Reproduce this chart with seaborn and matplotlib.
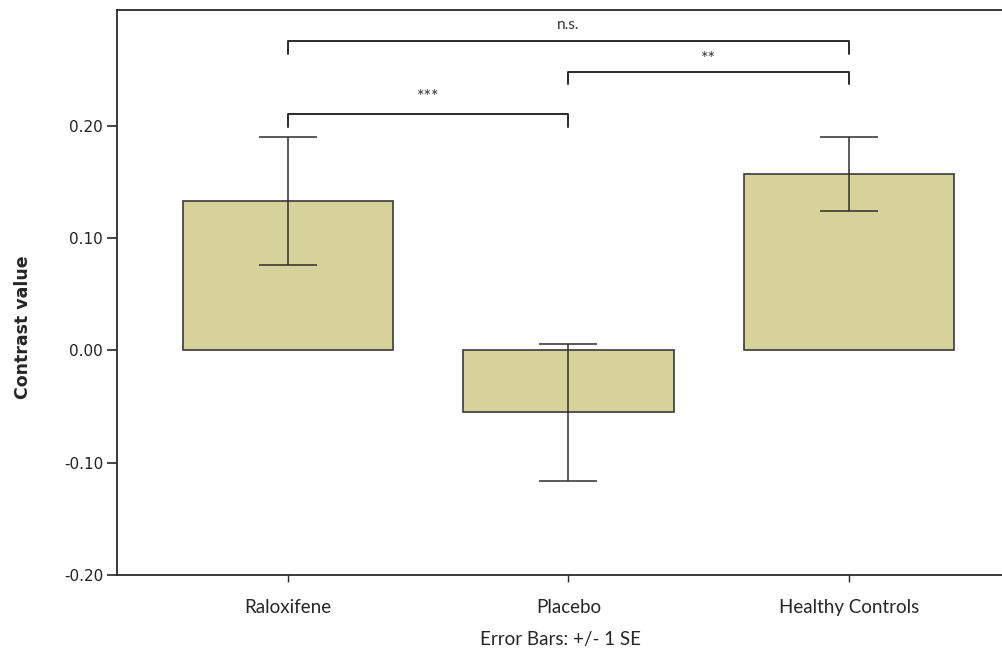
import numpy as np
import pandas as pd
import seaborn as sns
import matplotlib.pyplot as plt

# values
groups = ['Raloxifene', 'Placebo', 'Healthy Controls']
means = [0.133, -0.055, 0.157]
se = [0.057, 0.061, 0.033]

# significance brackets: (left group, right group, height, label)
brackets = [
    (0, 2, 0.275, 'n.s.'),
    (1, 2, 0.248, '**'),
    (0, 1, 0.210, '***'),
]

sns.set_style('white')
plt.rcParams['font.family'] = ['DejaVu Sans']

dat = pd.DataFrame({'group': groups, 'mean': means, 'se': se})

fig = plt.figure(figsize=(10.03, 6.48), dpi=100)
ax = fig.add_axes([0.1167, 0.1127, 0.8833, 0.8719])

sns.barplot(data=dat, x='group', y='mean', color='#d7d29a', saturation=1,
            width=0.75, edgecolor='#3a3a3a', linewidth=1.2, errorbar=None,
            ax=ax)
# Error bars (+/- 1 SE)
ax.errorbar(np.arange(len(groups)), dat['mean'], yerr=dat['se'], fmt='none',
            ecolor='#2e2e2e', elinewidth=1.1, capsize=21, capthick=1.1)

# Significance brackets
drop = 0.011
for a, b, h, lab in brackets:
    ax.plot([a, a, b, b], [h - drop, h, h, h - drop], color='#2a2a2a', lw=1.4)
    off = 0.004 if lab == '**' else 0.008
    size = 11 if lab == 'n.s.' else 13
    ax.text((a + b) / 2, h + off, lab, ha='center', va='bottom',
            fontsize=size, color='#333333', family='Lato')

ax.set_ylim(-0.20, 0.303)
ax.set_xlim(-0.61, 2.55)
ax.set_yticks([-0.20, -0.10, 0.00, 0.10, 0.20])
ax.set_yticklabels(['-0.20', '-0.10', '0.00', '0.10', '0.20'])
ax.tick_params(axis='y', length=7, width=1.2, direction='out', left=True,
               labelsize=11, pad=3)
ax.tick_params(axis='x', length=5, width=1, direction='out', bottom=True,
               labelsize=13.5, pad=12)
for lab in ax.get_xticklabels():
    lab.set_family('Lato')
for lab in ax.get_yticklabels():
    lab.set_family('DejaVu Sans')
    lab.set_color('#222222')

for s in ['left', 'bottom', 'top']:
    ax.spines[s].set_color('#2a2a2a')
    ax.spines[s].set_linewidth(1.3)
ax.spines['right'].set_visible(False)

ax.set_ylabel('Contrast value', fontsize=12.5, fontweight='bold')
ax.yaxis.set_label_coords(-0.096, 0.439)
ax.set_xlabel('Error Bars: +/- 1 SE', fontsize=13.5, family='Lato',
              labelpad=11)

fig.savefig('out.png', dpi=100)
